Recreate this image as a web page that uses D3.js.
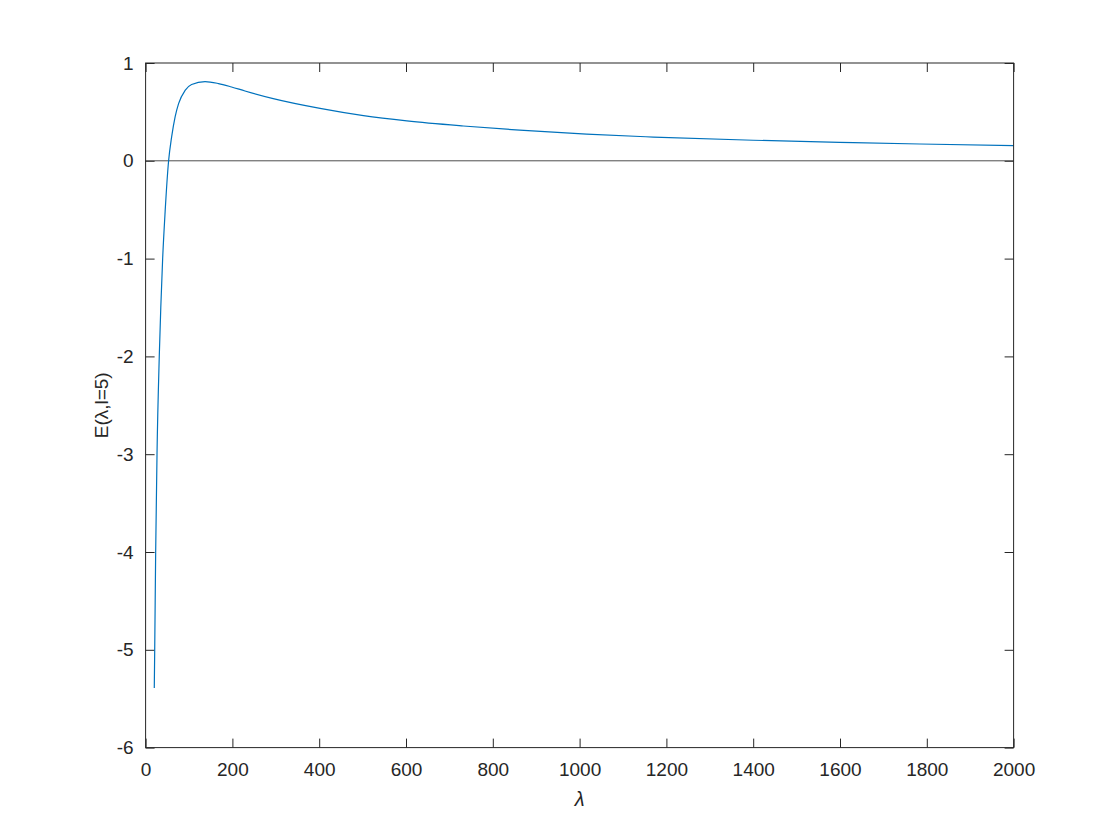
<!DOCTYPE html>
<html>
<head>
<meta charset="utf-8">
<script src="https://cdn.jsdelivr.net/npm/d3@7"></script>
<style>
  body { margin: 0; background: #fff; }
  svg { font-family: "Liberation Sans", Arial, Helvetica, sans-serif; }
</style>
</head>
<body>
<div id="chart"></div>
<script>
// values
const lambdaVals = [20, 21, 23.2, 26.3, 31.5, 35, 39.3, 45, 53, 60, 68, 76, 91, 106, 137,
    168, 198, 229, 294, 402, 502, 602, 732, 862, 1016, 1170, 1400, 1631, 1784, 2000];
const energyVals = [-5.39, -5.0, -4.0, -3.0, -2.0, -1.5, -1.0, -0.52, 0, 0.245, 0.45, 0.585, 0.72, 0.78, 0.81,
    0.79, 0.755, 0.714, 0.636, 0.536, 0.462, 0.408, 0.356, 0.313, 0.272, 0.243, 0.21, 0.186, 0.172, 0.155];
const xTicks = [0, 200, 400, 600, 800, 1000, 1200, 1400, 1600, 1800, 2000];
const yTicks = [-6, -5, -4, -3, -2, -1, 0, 1];

const WIDTH = 1120, HEIGHT = 840,
    MARGIN = { TOP: 63, RIGHT: 106.4, BOTTOM: 92.4, LEFT: 145.6 },
    INNER_WIDTH = WIDTH - MARGIN.LEFT - MARGIN.RIGHT,
    INNER_HEIGHT = HEIGHT - MARGIN.TOP - MARGIN.BOTTOM,
    TICK = 9,
    AXIS_COLOR = "#262626";

const svg = d3.select("#chart").append("svg")
    .attr("width", WIDTH)
    .attr("height", HEIGHT);

const g = svg.append("g")
    .attr("transform", `translate(${MARGIN.LEFT}, ${MARGIN.TOP})`);

const data = lambdaVals.map((l, i) => ({ l, e: energyVals[i] }));

// Scales
const xScale = d3.scaleLinear().domain([0, 2000]).range([0, INNER_WIDTH]);
const yScale = d3.scaleLinear().domain([-6, 1]).range([INNER_HEIGHT, 0]);

const plain = d => String(d);

// Axes (ticks point inward, like MATLAB)
function styleAxis(sel) {
    sel.select(".domain").remove();
    sel.selectAll("line").attr("stroke", AXIS_COLOR);
    sel.selectAll("text").attr("fill", AXIS_COLOR).style("font-size", "19px");
}

g.append("g")
    .attr("transform", `translate(0, ${INNER_HEIGHT})`)
    .call(d3.axisBottom(xScale).tickValues(xTicks).tickFormat(plain).tickSize(-TICK).tickSizeOuter(0).tickPadding(15))
    .call(styleAxis);

g.append("g")
    .call(d3.axisTop(xScale).tickValues(xTicks).tickSize(-TICK).tickSizeOuter(0).tickFormat(""))
    .call(styleAxis);

g.append("g")
    .call(d3.axisLeft(yScale).tickValues(yTicks).tickFormat(plain).tickSize(-TICK).tickSizeOuter(0).tickPadding(12))
    .call(styleAxis);

g.append("g")
    .attr("transform", `translate(${INNER_WIDTH}, 0)`)
    .call(d3.axisRight(yScale).tickValues(yTicks).tickSize(-TICK).tickSizeOuter(0).tickFormat(""))
    .call(styleAxis);

// Zero line
g.append("line")
    .attr("x1", xScale(0))
    .attr("x2", xScale(2000))
    .attr("y1", yScale(0))
    .attr("y2", yScale(0))
    .attr("stroke", "#4d4d4d")
    .attr("stroke-width", 1);

// Curve
const line = d3.line()
    .x(d => xScale(d.l))
    .y(d => yScale(d.e))
    .curve(d3.curveMonotoneX);

g.append("path")
    .datum(data)
    .attr("fill", "none")
    .attr("stroke", "#0072BD")
    .attr("stroke-width", 1.2)
    .attr("d", line);

// Box
g.append("rect")
    .attr("width", INNER_WIDTH)
    .attr("height", INNER_HEIGHT)
    .attr("fill", "none")
    .attr("stroke", AXIS_COLOR)
    .attr("stroke-width", 1);

// Axis titles
g.append("text")
    .attr("x", INNER_WIDTH / 2)
    .attr("y", INNER_HEIGHT + 58)
    .attr("text-anchor", "middle")
    .attr("fill", AXIS_COLOR)
    .style("font-size", "20px")
    .style("font-style", "italic")
    .text("λ");

g.append("text")
    .attr("transform", "rotate(-90)")
    .attr("x", -INNER_HEIGHT / 2)
    .attr("y", -38)
    .attr("text-anchor", "middle")
    .attr("fill", AXIS_COLOR)
    .style("font-size", "19px")
    .text("E(λ,l=5)");
</script>
</body>
</html>
